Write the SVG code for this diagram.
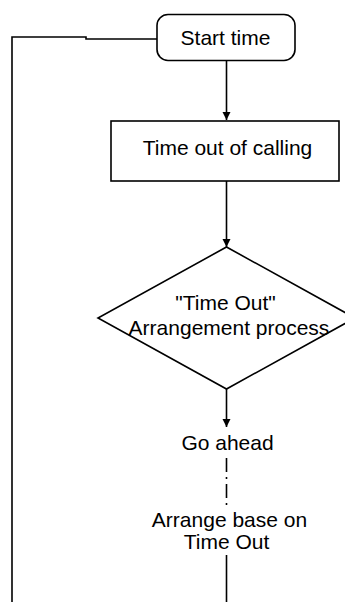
<svg xmlns="http://www.w3.org/2000/svg" width="345" height="602" viewBox="0 0 345 602">
<defs>
<style>
.ln{fill:none;stroke:#000;stroke-width:1.6}
.box{fill:#fff;stroke:#000;stroke-width:1.6}
.t{font-family:"Liberation Sans",Arial,sans-serif;font-size:21px;fill:#000;text-anchor:middle}
</style>
<marker id="ah" viewBox="0 0 8 10" refX="8" refY="5" markerWidth="8" markerHeight="10" markerUnits="userSpaceOnUse" orient="auto">
<path d="M0,1 L8,5 L0,9 Z" fill="#000"/>
</marker>
</defs>
<rect width="345" height="602" fill="#fff"/>
<g id="connectors">
<polyline class="ln" points="12,602 12,37 86,37 86,39 157,39" stroke-width="2"/>
<line class="ln" x1="226.5" y1="61" x2="226.5" y2="120" marker-end="url(#ah)"/>
<line class="ln" x1="226.5" y1="181" x2="226.5" y2="247" marker-end="url(#ah)"/>
<line class="ln" x1="226.5" y1="389" x2="226.5" y2="427" marker-end="url(#ah)"/>
<line class="ln" x1="226.5" y1="458" x2="226.5" y2="506" stroke-width="3" stroke-dasharray="14,5,2,5"/>
<line class="ln" x1="226.5" y1="555" x2="226.5" y2="602"/>
</g>
<g id="start">
<rect class="box" x="157" y="14.5" width="138" height="46" rx="11"/>
<text class="t" x="225.5" y="45">Start time</text>
</g>
<g id="timeout">
<rect class="box" x="111" y="121" width="228" height="60"/>
<text class="t" x="227.5" y="155">Time out of calling</text>
</g>
<g id="decision">
<polygon class="box" points="226.5,247 355,318 226.5,389 98,318"/>
<text class="t" x="225.5" y="310">"Time Out"</text>
<text class="t" x="229" y="335">Arrangement process</text>
</g>
<g id="goahead">
<text class="t" x="227.5" y="450">Go ahead</text>
</g>
<g id="arrange">
<text class="t" x="229.5" y="527">Arrange base on</text>
<text class="t" x="226.5" y="549">Time Out</text>
</g>
</svg>
